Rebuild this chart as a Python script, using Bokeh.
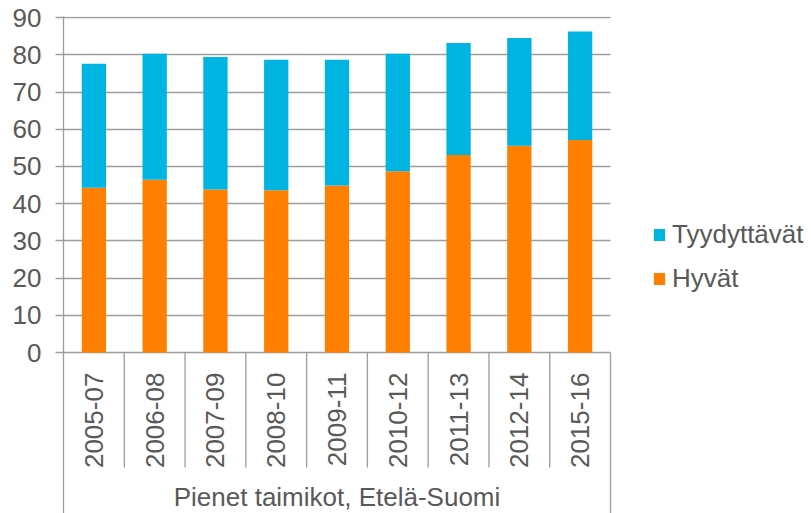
import numpy as np
from bokeh.plotting import figure
from bokeh.models import (ColumnDataSource, Range1d, FixedTicker, Legend, LegendItem,
                          BoxAnnotation)
from bokeh.core.properties import value
from bokeh.embed import file_html
from bokeh.resources import INLINE

# ---- data ----
categories = ["2005-07", "2006-08", "2007-09", "2008-10", "2009-11",
              "2010-12", "2011-13", "2012-14", "2015-16"]
hyvat = [44.3, 46.4, 43.8, 43.6, 44.9, 48.7, 53.1, 55.6, 57.1]
tyydyttavat = [33.3, 33.9, 35.6, 35.1, 33.8, 31.6, 30.1, 28.9, 29.2]
series_names = ["Hyvät", "Tyydyttävät"]
series_colors = ["#FF8000", "#00B4E1"]
y_ticks = [0, 10, 20, 30, 40, 50, 60, 70, 80, 90]
group_label = "Pienet taimikot, Etelä-Suomi"

FONT = "Liberation Sans"
TXT = "#595959"
GRAY = "#9d9d9d"

n = len(categories)
centers = np.arange(n) + 0.5
bounds_inner = np.arange(1, n)

source = ColumnDataSource(dict(x=centers, cat=categories,
                               **{series_names[0]: hyvat, series_names[1]: tyydyttavat}))

Y_MIN = -43.25
X_END = n + 3.307          # frame extends under the legend area
p = figure(width=811, height=513,
           x_range=Range1d(0, X_END), y_range=Range1d(Y_MIN, 90.3),
           x_axis_type=None, output_backend="svg", toolbar_location=None,
           min_border_left=63, min_border_right=0, min_border_top=16, min_border_bottom=0)
p.outline_line_color = None
p.background_fill_color = "white"
p.border_fill_color = "white"

# y axis and grid
yt = FixedTicker(ticks=y_ticks)
p.yaxis.ticker = yt
p.ygrid.ticker = yt
p.ygrid.grid_line_color = GRAY
p.ygrid.grid_line_width = 1.3
need_mask = False
try:
    p.ygrid.cross_bounds = (0, n)
except Exception:
    need_mask = True
p.yaxis.axis_line_color = GRAY
p.yaxis.axis_line_width = 1.3
p.yaxis.major_tick_line_color = GRAY
p.yaxis.major_tick_line_width = 1.3
p.yaxis.major_tick_out = 8
p.yaxis.major_tick_in = 0
p.yaxis.minor_tick_line_color = None
p.yaxis.major_label_text_font = FONT
p.yaxis.major_label_text_font_size = "26px"
p.yaxis.major_label_text_color = TXT
p.yaxis.major_label_standoff = 14

if need_mask:
    p.add_layout(BoxAnnotation(left=n + 0.02, fill_color="white", fill_alpha=1,
                               line_color=None))

# bars
rs = p.vbar_stack(series_names, x="x", width=0.4, source=source,
                  fill_color=series_colors, line_color=None)

# category separators and right edge
p.segment(x0=bounds_inner, y0=0, x1=bounds_inner, y1=-30.9,
          line_color=GRAY, line_width=1.3)
p.segment(x0=[n], y0=[0], x1=[n], y1=[Y_MIN], line_color=GRAY, line_width=1.3)

# category labels
p.text(x="x", y=-5.4, text="cat", source=source, angle=np.pi / 2,
       text_align="right", text_baseline="middle",
       text_font=value(FONT), text_font_size=value("26px"), text_color=TXT)
# group label
p.text(x=[n / 2], y=[-38.9], text=[group_label],
       text_align="center", text_baseline="middle",
       text_font=value(FONT), text_font_size=value("26px"), text_color=TXT)

legend = Legend(items=[LegendItem(label=series_names[1], renderers=[rs[1]]),
                       LegendItem(label=series_names[0], renderers=[rs[0]])],
                location=(589, 219))
legend.label_text_font = FONT
legend.label_text_font_size = "26px"
legend.label_text_color = TXT
legend.glyph_width = 14
legend.glyph_height = 15
legend.label_standoff = 6
legend.spacing = 13
legend.padding = 0
legend.margin = 0
legend.border_line_color = None
legend.background_fill_alpha = 0
p.add_layout(legend)

open("out.html", "w").write(file_html(p, INLINE))
